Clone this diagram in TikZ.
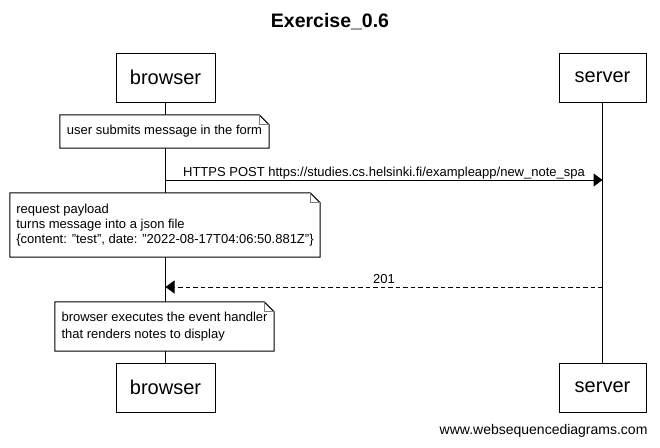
\documentclass[tikz,border=0pt]{standalone}
\usepackage{fontspec}
\setmainfont{Liberation Sans}
\usetikzlibrary{arrows.meta, positioning, calc}
\tikzset{actor/.style={rectangle,draw,line width=1pt,fill=white,minimum height=49pt,inner sep=0pt,font=\fontsize{20}{24}\selectfont},
         note/.style={rectangle,fill=white,align=left,inner sep=0pt,font=\fontsize{13}{15}\selectfont},
         lifeline/.style={line width=1pt},
         msg/.style={-{Triangle[length=9pt,width=13pt]},line width=1pt},
         reply/.style={msg,dash pattern=on 4.5pt off 3pt},
         msglabel/.style={above,inner sep=3pt,text depth=0pt,font=\fontsize{13}{15}\selectfont}}

\begin{document}
\begin{tikzpicture}[x=1pt,y=-1pt]
    \fill[white] (0,0) rectangle (660,447);
    \useasboundingbox (0,0) rectangle (660,447);
    \node (title) [font=\bfseries\fontsize{19.5}{23}\selectfont] at (330,22) {Exercise\_0.6};
    % participants
    \node (bTop) [actor, minimum width=99pt] at (165.5,77.5) {browser};
    \node (sTop) [actor, minimum width=87pt] at (602.5,77.5) {server};
    \node (bBot) [actor, minimum width=99pt] at (165.5,387.5) {browser};
    \node (sBot) [actor, minimum width=87pt] at (602.5,387.5) {server};
    \draw[lifeline] (bTop.south) -- (bBot.north);
    \draw[lifeline] (sTop.south) -- (sBot.north);
    % notes
    \node (n1) [note, minimum width=209pt, minimum height=33pt] at (164.5,131.5) {user submits message in the form};
    \node (n2) [note, minimum width=310pt, minimum height=64pt] at (165,225) {request payload\\turns message into a json file\\\{content: "test", date: "2022-08-17T04:06:50.881Z"\}};
    \node (n3) [note, minimum width=219pt, minimum height=49pt, font=\fontsize{13}{16.5}\selectfont] at (164.5,326.5) {browser executes the event handler\\that renders notes to display};
    \foreach \n in {n1,n2,n3}{
      \draw[line width=1pt] (\n.south west) -- (\n.north west) -- ($(\n.north east)+(-10,0)$) -- ($(\n.north east)+(0,10)$) -- (\n.south east) -- cycle;
      \draw[gray,line width=1pt] ($(\n.north east)+(-10,0)$) |- ($(\n.north east)+(0,10)$);
    }
    % messages
    \coordinate (b1) at (bTop.south |- 0,180);
    \coordinate (s1) at (sTop.south |- 0,180);
    \coordinate (b2) at (bTop.south |- 0,287);
    \coordinate (s2) at (sTop.south |- 0,287);
    \draw[msg] (b1) -- node[msglabel]{HTTPS POST https://studies.cs.helsinki.fi/exampleapp/new\_note\_spa} (s1);
    \draw[reply] (s2) -- node[msglabel]{201} (b2);
    \node (credit) [anchor=east, font=\fontsize{14}{17}\selectfont] at (651,431) {www.websequencediagrams.com};
\end{tikzpicture}
\end{document}
